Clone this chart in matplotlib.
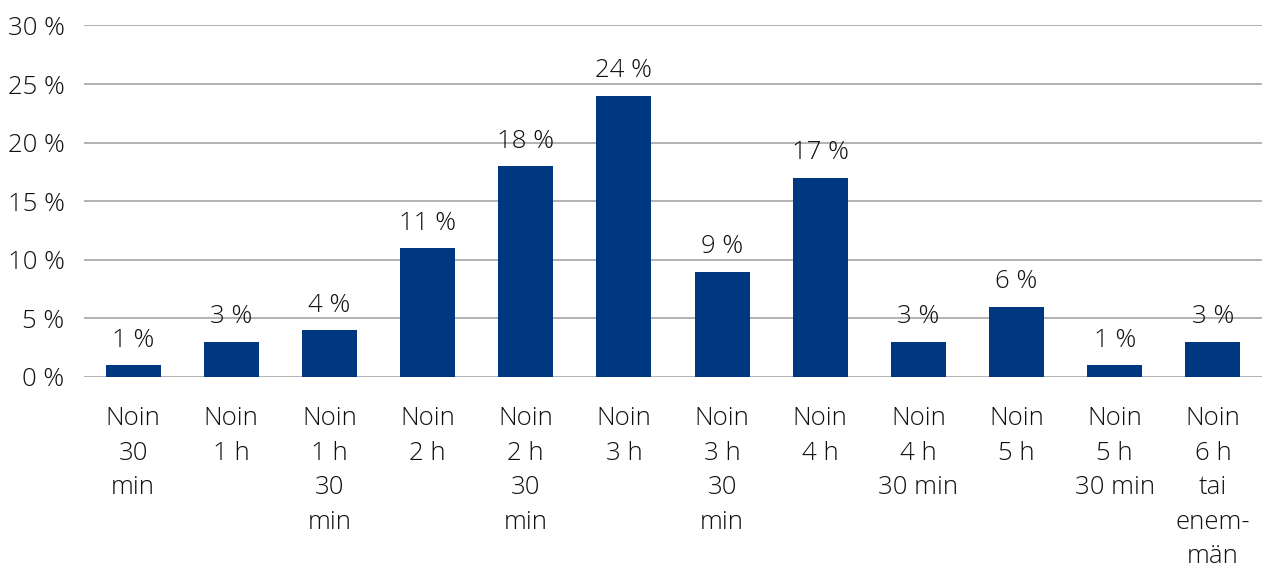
import matplotlib.pyplot as plt
from matplotlib.ticker import FuncFormatter

categories = ["Noin\n30\nmin", "Noin\n1 h", "Noin\n1 h\n30\nmin", "Noin\n2 h",
              "Noin\n2 h\n30\nmin", "Noin\n3 h", "Noin\n3 h\n30\nmin", "Noin\n4 h",
              "Noin\n4 h\n30 min", "Noin\n5 h", "Noin\n5 h\n30 min",
              "Noin\n6 h\ntai\nenem-\nmän"]
values = [1, 3, 4, 11, 18, 24, 9, 17, 3, 6, 1, 3]

plt.rcParams['font.family'] = ['Open Sans', 'DejaVu Sans']
plt.rcParams['font.weight'] = 'light'

fig = plt.figure(figsize=(12.62, 5.68), dpi=100)
ax = fig.add_axes([84 / 1262, 1 - 377 / 568, 1 - 84 / 1262, 351.6 / 568])

x = range(len(values))
bars = ax.bar(x, values, width=0.56, color="#003781", zorder=3)
for xi, v in zip(x, values):
    ax.annotate(f"{v} %", (xi, v), xytext=(0, 9), textcoords="offset points",
                ha="center", va="bottom", fontsize=18.5, color="#111111", zorder=4)

ax.set_xlim(-0.5, len(values) - 0.5)
ax.set_ylim(0, 30)
ax.set_yticks(range(0, 31, 5))
ax.yaxis.set_major_formatter(FuncFormatter(lambda v, p: f"{int(v)} %"))
ax.grid(axis="y", color="#a6a6a6", linewidth=1.2, zorder=0)
for s in ax.spines.values():
    s.set_visible(False)
ax.tick_params(axis="y", length=0, pad=14, labelsize=18.5, labelcolor="#111111")
ax.tick_params(axis="x", length=0, pad=21, labelsize=18.5, labelcolor="#111111")
ax.set_xticks(list(x))
ax.set_xticklabels(categories, linespacing=1.5, va="top")

fig.savefig("out.png", dpi=100)
